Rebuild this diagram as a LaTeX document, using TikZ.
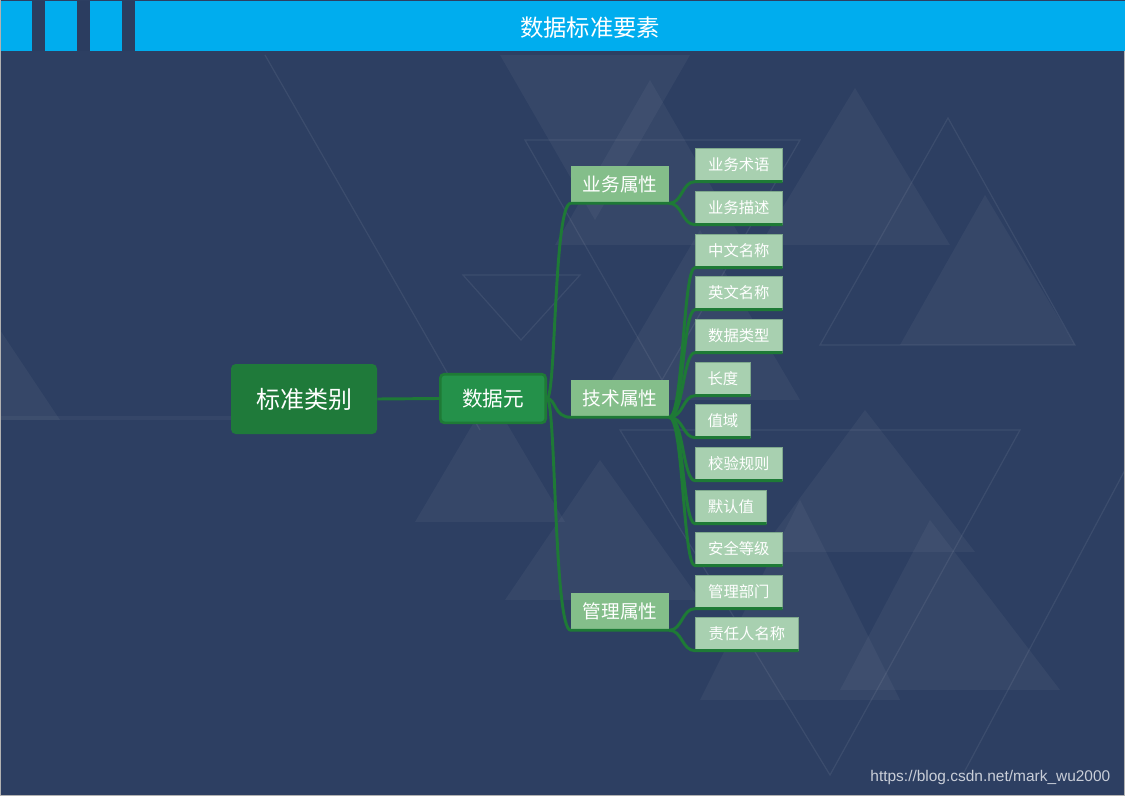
\documentclass[tikz,border=0pt]{standalone}
\usepackage{fontspec}
\setmainfont{Noto Sans CJK SC}
\newfontfamily\wmfont{Liberation Sans}
\definecolor{bgblue}{HTML}{2D3F62}
\definecolor{hdrblue}{HTML}{00ADEE}
\definecolor{slotblue}{HTML}{2B3D60}
\definecolor{cgreen}{HTML}{1E7A36}
\definecolor{rootfill}{HTML}{1F7A3A}
\definecolor{dyfill}{HTML}{24914A}
\definecolor{midfill}{HTML}{84BE8A}
\definecolor{leaffill}{HTML}{A8D0B0}
\definecolor{leafedge}{HTML}{7FA98D}
\definecolor{wmgray}{HTML}{C9CED8}
\begin{document}
\begin{tikzpicture}[x=0.75pt,y=-0.75pt,
  tri/.style={fill=white,fill opacity=0.045,draw=none},
  trio/.style={draw=white,draw opacity=0.07,line width=0.9pt},
  conn/.style={draw=cgreen,line width=2.2pt},
  rootbox/.style={fill=rootfill,rounded corners=3.5pt,text=white,inner sep=0,
     minimum width=109.5pt,minimum height=52.5pt,font=\fontsize{18}{18}\selectfont},
  dybox/.style={fill=dyfill,draw=cgreen,line width=2pt,rounded corners=3pt,text=white,inner sep=0,
     minimum width=79pt,minimum height=36.5pt,font=\fontsize{15.5}{15.5}\selectfont},
  midbox/.style={fill=midfill,text=white,inner sep=0,
     minimum width=73.5pt,minimum height=27.75pt,font=\fontsize{14}{14}\selectfont},
  leafbox/.style={fill=leaffill,draw=leafedge,line width=0.5pt,text=white,inner sep=0,anchor=north west,
     minimum height=24.75pt,font=\fontsize{11.5}{11.5}\selectfont},
  titletext/.style={text=white,font=\fontsize{17.5}{17.5}\selectfont},
  wmtext/.style={text=wmgray,font=\wmfont\fontsize{11.6}{11.6}\selectfont}
]
\useasboundingbox (0,0) rectangle (1125,796);
% background
\fill[bgblue] (0,0) rectangle (1125,796);
% decorative triangles
\fill[tri] (855,88) -- (760,245) -- (950,245) -- cycle;
\fill[tri] (985,195) -- (900,345) -- (1075,345) -- cycle;
\fill[tri] (865,410) -- (760,552) -- (975,552) -- cycle;
\fill[tri] (650,80) -- (555,245) -- (745,245) -- cycle;
\fill[tri] (490,395) -- (415,522) -- (565,522) -- cycle;
\fill[tri] (600,460) -- (505,600) -- (700,600) -- cycle;
\fill[tri] (800,500) -- (700,700) -- (900,700) -- cycle;
\fill[tri] (0,330) -- (-60,420) -- (60,420) -- cycle;
\fill[tri] (500,55) -- (690,55) -- (595,220) -- cycle;
\fill[tri] (930,520) -- (840,690) -- (1060,690) -- cycle;
\fill[tri] (700,230) -- (600,400) -- (800,400) -- cycle;
\draw[trio] (948,118) -- (820,345) -- (1075,345) -- cycle;
\draw[trio] (525,140) -- (800,140) -- (662,380) -- cycle;
\draw[trio] (463,275) -- (580,275) -- (521,340) -- cycle;
\draw[trio] (265,55) -- (480,430);
\draw[trio] (620,430) -- (1020,430) -- (830,775) -- cycle;
\draw[trio] (1125,470) -- (960,780);
\fill[white,fill opacity=0.04] (0,416) rectangle (232,420);
% header
\fill[hdrblue] (0,1) rectangle (1125,51);
\fill[slotblue] (32,1) rectangle (45,51);
\fill[slotblue] (77,1) rectangle (90,51);
\fill[slotblue] (122,1) rectangle (135,51);
\node[titletext] (title) at (590,28) {数据标准要素};
% frame
\draw[gray!60,line width=0.8pt] (0.5,0) -- (0.5,795.5) -- (1124.5,795.5) -- (1124.5,51);
% nodes
\node[rootbox] (root) at (304,399) {标准类别};
\node[dybox] (dy) at (493,398.5) {数据元};
\node[midbox] (yw) at (620,184.5) {业务属性};
\node[midbox] (js) at (620,398.5) {技术属性};
\node[midbox] (gl) at (620,611.5) {管理属性};
\node[leafbox,minimum width=65.25pt] (l1) at (695,148) {业务术语};
\node[leafbox,minimum width=65.25pt] (l2) at (695,191) {业务描述};
\node[leafbox,minimum width=65.25pt] (l3) at (695,234) {中文名称};
\node[leafbox,minimum width=65.25pt] (l4) at (695,276) {英文名称};
\node[leafbox,minimum width=65.25pt] (l5) at (695,319) {数据类型};
\node[leafbox,minimum width=41.25pt] (l6) at (695,362) {长度};
\node[leafbox,minimum width=41.25pt] (l7) at (695,404) {值域};
\node[leafbox,minimum width=65.25pt] (l8) at (695,447) {校验规则};
\node[leafbox,minimum width=53.25pt] (l9) at (695,490) {默认值};
\node[leafbox,minimum width=65.25pt] (l10) at (695,532) {安全等级};
\node[leafbox,minimum width=65.25pt] (l11) at (695,575) {管理部门};
\node[leafbox,minimum width=77.25pt] (l12) at (695,617) {责任人名称};
% connectors
\draw[conn] (root.east) -- (dy.west);
\foreach \m in {yw,js,gl}{
  \draw[conn] (dy.east) .. controls +(9,0) and +(-17,0) .. (\m.south west) -- (\m.south east);
}
\foreach \l in {l1,l2}{
  \draw[conn] (yw.south east) .. controls +(13,0) and +(-13,0) .. (\l.south west) -- (\l.south east);
}
\foreach \l in {l3,l4,l5,l6,l7,l8,l9,l10}{
  \draw[conn] (js.south east) .. controls +(14,0) and +(-12,0) .. (\l.south west) -- (\l.south east);
}
\foreach \l in {l11,l12}{
  \draw[conn] (gl.south east) .. controls +(13,0) and +(-13,0) .. (\l.south west) -- (\l.south east);
}
% watermark
\node[wmtext,anchor=east] (wm) at (1115,777) {https://blog.csdn.net/mark\_wu2000};
\end{tikzpicture}
\end{document}
